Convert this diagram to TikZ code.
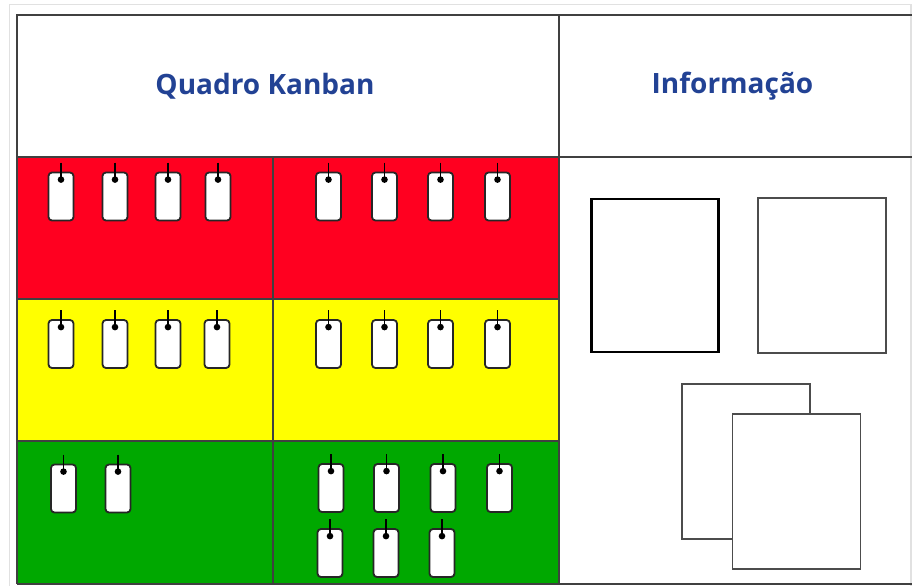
\documentclass[tikz,border=0pt]{standalone}
\usepackage{fontspec}
\setmainfont{Open Sans}
\definecolor{kred}{RGB}{255,0,32}
\definecolor{kyellow}{RGB}{255,255,0}
\definecolor{kgreen}{RGB}{0,168,0}
\definecolor{kblue}{RGB}{34,66,148}
\definecolor{kframe}{RGB}{64,64,64}
\definecolor{klight}{RGB}{225,225,225}
\tikzset{
  frameline/.style={draw=kframe, line width=2pt},
  card/.style={draw=black!85, line width=1.8pt, fill=white, rounded corners=3.5pt, minimum width=25pt, minimum height=48pt, inner sep=0pt},
  title/.style={text=kblue, font=\fontsize{28}{32}\selectfont\bfseries},
  infobox/.style={draw=black!70, line width=1.3pt, fill=white, inner sep=0pt, minimum width=128pt, minimum height=155pt},
}
\newcommand{\kcard}[3]{%
  \node[card] (#1) at (#2,#3) {};
  \fill[black] ([yshift=-8pt]#1.north) circle (3.3pt);
  \draw[black, line width=1.1pt] ([yshift=9pt]#1.north) -- ([yshift=-8pt]#1.north);
}
\begin{document}
\begin{tikzpicture}[x=1pt,y=-1pt]
\useasboundingbox (0,0) rectangle (912,586);
\fill[white] (0,0) rectangle (912,586);
% light outer border
\draw[klight, line width=1.5pt] (9.5,4.5) -- (911,4.5) -- (911,586);
\draw[klight, line width=1.5pt] (9.5,4.5) -- (9.5,586);
% rows
\fill[kred] (17,157) rectangle (559,299);
\fill[kyellow] (17,299) rectangle (559,441);
\fill[kgreen] (17,441) rectangle (559,584);
% frame
\draw[frameline] (17,584) -- (17,15) -- (912,15);
\draw[frameline] (17,584) -- (912,584);
\draw[frameline] (17,157) -- (912,157);
\draw[frameline] (559,15) -- (559,584);
\draw[frameline] (273,157) -- (273,584);
\draw[frameline] (17,299) -- (559,299);
\draw[frameline] (17,441) -- (559,441);
% titles
\node[title] (t1) at (265,86.5) {Quadro Kanban};
\node[title] (t2) at (732.5,86.5) {Informação};
% cards red
\foreach \x [count=\i] in {61,115,168,218} {\kcard{rl\i}{\x}{196.5}}
\foreach \x [count=\i] in {328.5,384.5,440.5,497.5} {\kcard{rr\i}{\x}{196.5}}
% yellow
\foreach \x [count=\i] in {61,115,168,217} {\kcard{yl\i}{\x}{344}}
\foreach \x [count=\i] in {328.5,384.5,440.5,497.5} {\kcard{yr\i}{\x}{344}}
% green
\foreach \x [count=\i] in {63.5,118} {\kcard{gl\i}{\x}{488.5}}
\foreach \x [count=\i] in {331,386.5,443,499.5} {\kcard{ga\i}{\x}{488}}
\foreach \x [count=\i] in {330,386,442} {\kcard{gb\i}{\x}{553}}
% info boxes
\node[infobox, draw=black, line width=2.4pt, minimum width=127pt, minimum height=153pt] (i1) at (655,275.5) {};
\node[infobox] (i2) at (822,275.5) {};
\node[infobox] (i3) at (746,461.5) {};
\node[infobox] (i4) at (796.5,491.5) {};
\end{tikzpicture}
\end{document}
